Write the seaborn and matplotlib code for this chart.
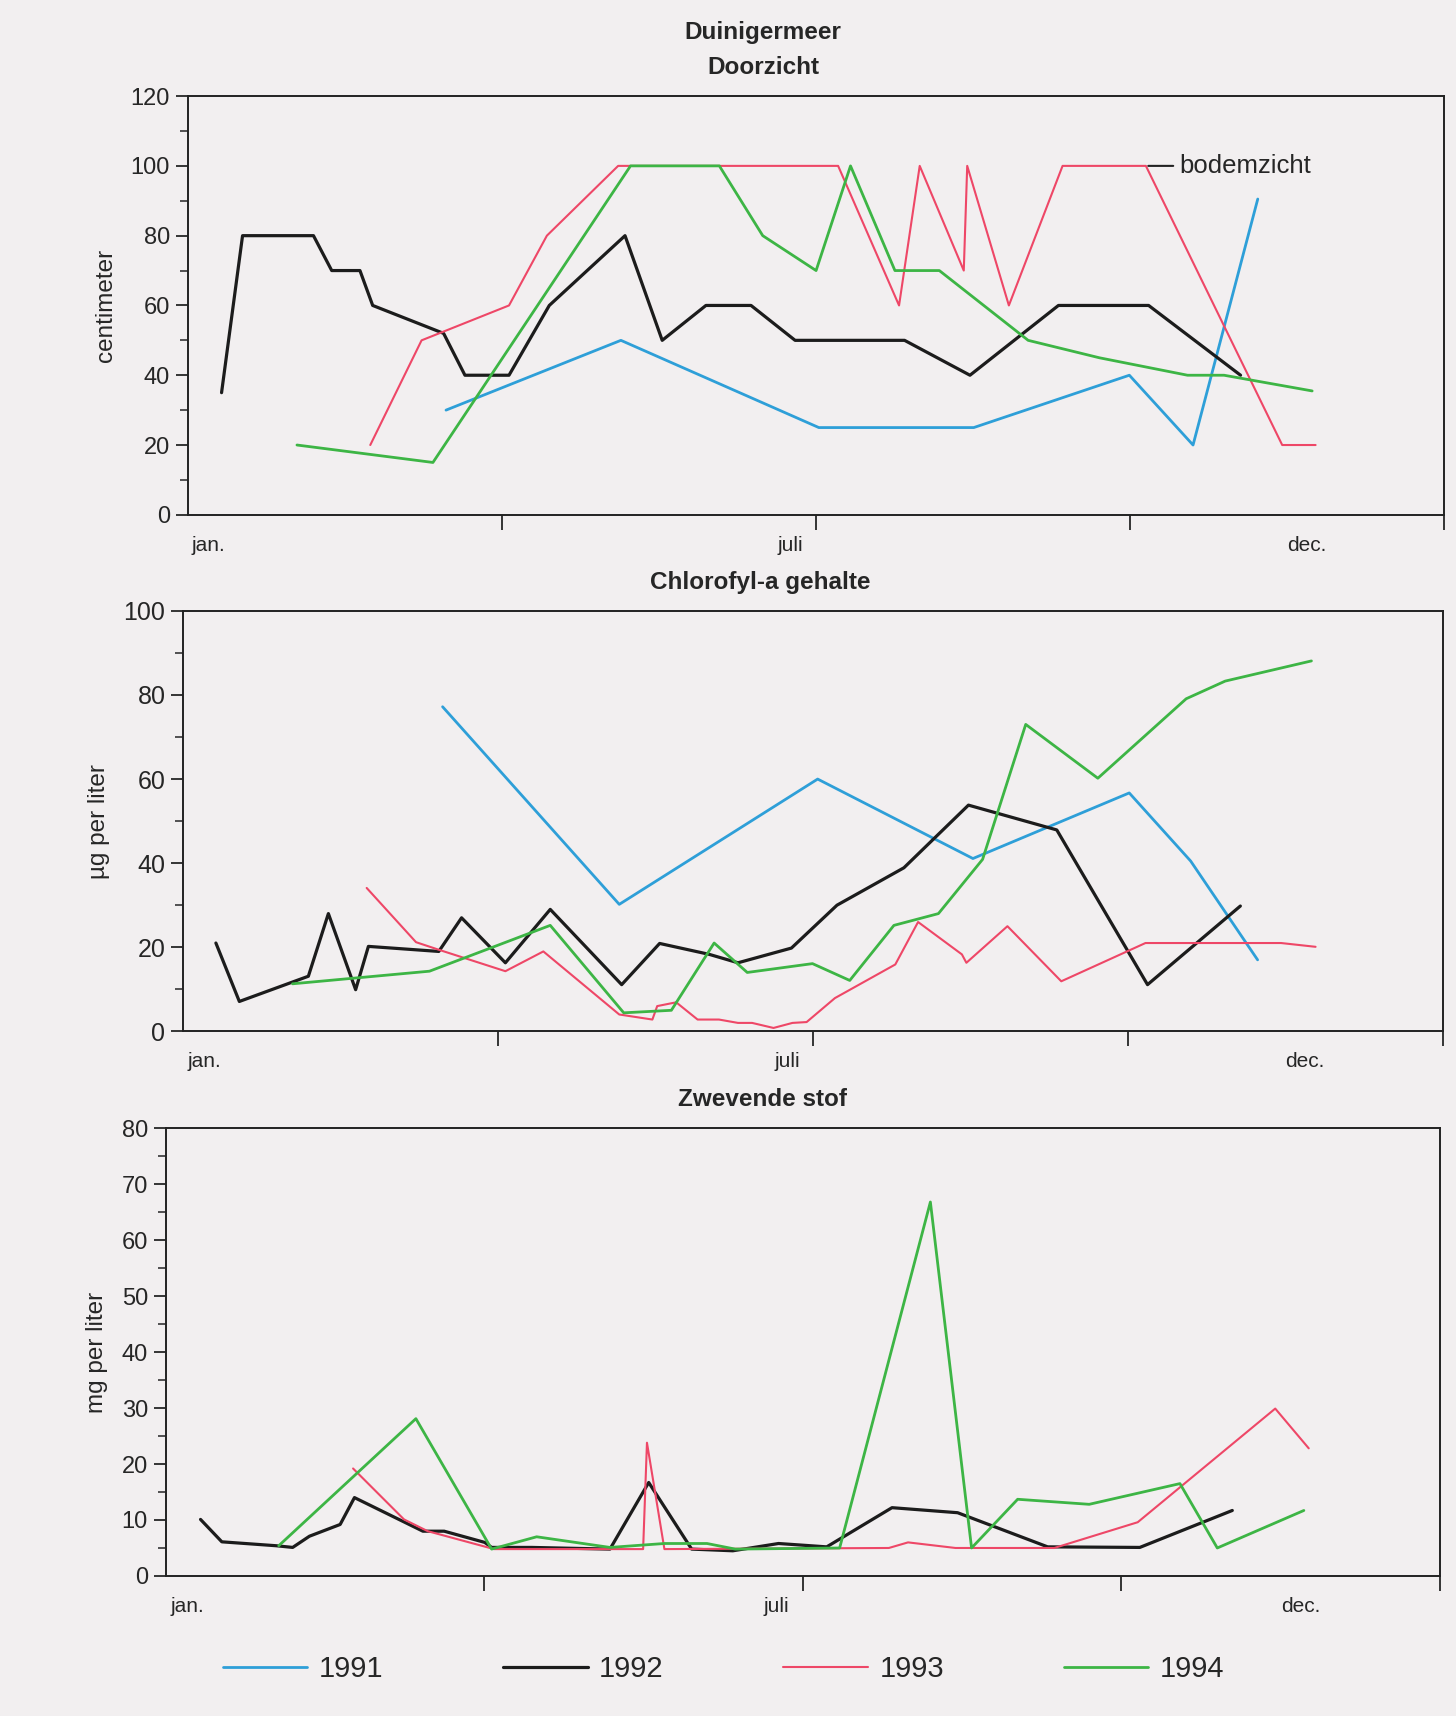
import pandas as pd
import matplotlib.pyplot as plt
import seaborn as sns

# --- data (x = day of the year) ---
# Doorzicht (centimeter)
zicht_1991_dag = [75, 125.8, 183.3, 228.3, 273.5, 292, 310.8]
zicht_1991 = [30, 50, 25, 25, 40, 20, 90.5]
zicht_1992_dag = [9.8, 15.9, 36.5, 41.8, 50, 53.7, 74.3, 80.5, 93.3, 105, 127, 137.8,
                  150.5, 163.6, 176.4, 208.2, 227.2, 252.9, 279.1, 305.8]
zicht_1992 = [35, 80, 80, 70, 70, 60, 52, 40, 40, 60, 80, 50,
              60, 60, 50, 50, 40, 60, 60, 40]
zicht_1993_dag = [53, 67.9, 93.3, 104.3, 125, 188.9, 206.6, 212.6, 225.4, 226.4,
                  238.5, 254.1, 278.3, 317.9, 327.6]
zicht_1993 = [20, 50, 60, 80, 100, 100, 60, 100, 70, 100, 60, 100, 100, 20, 20]
zicht_1994_dag = [31.7, 71.2, 128.6, 154.4, 167, 182.5, 192.5, 205.4, 218.3, 244.1,
                  264.8, 290.4, 301, 326.6]
zicht_1994 = [20, 15, 100, 100, 80, 70, 100, 70, 70, 50, 45, 40, 40, 35.5]

# Chlorofyl-a (ug per liter)
chl_1991_dag = [75.1, 126.3, 183.8, 228.8, 274.1, 291.9, 311.3]
chl_1991 = [77.2, 30.2, 60, 41.1, 56.7, 40.5, 17]
chl_1992_dag = [9.4, 16.2, 36.2, 42, 49.9, 53.6, 74, 80.6, 93.3, 106.3, 127, 138,
                152.4, 160.7, 176.2, 189.4, 208.8, 227.5, 253.1, 279.4, 306.3]
chl_1992 = [21, 7.1, 13.1, 28, 9.9, 20.2, 19, 27, 16.3, 29, 11.1, 20.9,
            18.3, 16.3, 19.8, 30, 38.9, 53.8, 47.9, 11.1, 29.8]
chl_1993_dag = [53.1, 67.4, 74, 93.3, 104.3, 126.3, 135.9, 137.3, 142.8, 149, 155.2,
                160.7, 164.8, 171, 176.5, 180.6, 188.8, 206.3, 212.9, 225.6, 226.9,
                238.8, 254.4, 278.8, 318.1, 328.1]
chl_1993 = [34.1, 21.2, 19.4, 14.3, 19, 4, 2.8, 6, 6.9, 2.8, 2.8,
            2, 2, 0.8, 2, 2.2, 7.9, 15.9, 26, 18.3, 16.3,
            25, 11.9, 21, 21, 20.1]
chl_1994_dag = [31.6, 71.3, 106.3, 127.6, 141.4, 153.8, 163.4, 182.3, 193.1, 205.9,
                218.8, 231.6, 244.1, 265, 290.6, 301.9, 326.9]
chl_1994 = [11.3, 14.3, 25.2, 4.4, 5, 21, 14, 16.1, 12.1, 25.2,
            28, 40.9, 73, 60.2, 79.1, 83.3, 88.1]

# Zwevende stof (mg per liter)
zw_1992_dag = [9.9, 16, 31.6, 36.3, 41.1, 49.9, 54, 73.6, 79.7, 91.3, 93.3, 104.8,
               127.2, 138.3, 150.6, 162.4, 175.5, 189.3, 208, 226.8, 252.6, 279, 305.5]
zw_1992 = [10.1, 6.1, 5.4, 5.1, 7.1, 9.2, 14, 8, 8, 6, 5.1, 5.1,
           4.8, 16.7, 4.8, 4.5, 5.8, 5.2, 12.2, 11.3, 5.2, 5.1, 11.7]
zw_1993_dag = [53.6, 68.2, 75, 94, 136.7, 137.8, 142.8, 207.1, 212.6, 226.2, 254.5,
               278.4, 317.8, 327.4]
zw_1993 = [19.2, 10.1, 8, 4.8, 4.8, 23.8, 4.8, 5, 6, 5, 5, 9.6, 29.9, 22.8]
zw_1994_dag = [32.3, 71.6, 93.3, 106.2, 127.2, 142.8, 155, 163.1, 193, 219, 230.8,
               244, 264.5, 290.5, 301.2, 326]
zw_1994 = [5.4, 28.1, 4.8, 7, 5.1, 5.8, 5.8, 4.8, 5, 66.8, 5, 13.7, 12.8, 16.5, 5, 11.7]

jaren = ['1991', '1992', '1993', '1994']
kleuren = {'1991': '#2e9fd8', '1992': '#1c1c1c', '1993': '#ee4767', '1994': '#3db545'}
dikte = {'1991': 2.0, '1992': 2.3, '1993': 1.5, '1994': 2.0}

maand_labels = ['jan.', 'juli', 'dec.']
maand_pos = [6, 175, 325]

bg = '#f2eff0'
sns.set_style('ticks')
plt.rcParams['font.family'] = ['Liberation Sans', 'DejaVu Sans']

fig = plt.figure(figsize=(14.56, 17.16), dpi=100, facecolor=bg)
ax1 = fig.add_axes([0.129, 0.700, 0.863, 0.244])
ax2 = fig.add_axes([0.126, 0.399, 0.865, 0.245])
ax3 = fig.add_axes([0.114, 0.0816, 0.875, 0.261])

panels = [
    (ax1, {'1991': (zicht_1991_dag, zicht_1991), '1992': (zicht_1992_dag, zicht_1992),
           '1993': (zicht_1993_dag, zicht_1993), '1994': (zicht_1994_dag, zicht_1994)},
     120, 20, 10, 'centimeter', 17),
    (ax2, {'1991': (chl_1991_dag, chl_1991), '1992': (chl_1992_dag, chl_1992),
           '1993': (chl_1993_dag, chl_1993), '1994': (chl_1994_dag, chl_1994)},
     100, 20, 10, 'µg per liter', 18),
    (ax3, {'1992': (zw_1992_dag, zw_1992), '1993': (zw_1993_dag, zw_1993),
           '1994': (zw_1994_dag, zw_1994)},
     80, 10, 5, 'mg per liter', 17),
]

for ax, reeksen, ymax, ystap, yminor, ylabel, ysize in panels:
    ax.set_facecolor(bg)
    for jaar in jaren:
        if jaar not in reeksen:
            continue
        dag, waarde = reeksen[jaar]
        df = pd.DataFrame({'dag': dag, 'waarde': waarde})
        sns.lineplot(data=df, x='dag', y='waarde', ax=ax, color=kleuren[jaar],
                     linewidth=dikte[jaar], estimator=None, sort=False)
    ax.set_xlim(0, 365)
    ax.set_ylim(0, ymax)
    ax.set_yticks(range(0, ymax + 1, ystap))
    ax.set_yticks(range(0, ymax + 1, yminor), minor=True)
    ax.set_xticks([91.25, 182.5, 273.75, 365])
    ax.set_xticklabels([])
    ax.set_xticks(maand_pos, minor=True)
    ax.set_xticklabels(maand_labels, minor=True)
    ax.tick_params(axis='y', which='major', labelsize=ysize, length=9, width=1.3, pad=4)
    ax.tick_params(axis='y', which='minor', length=6, width=1.1)
    ax.tick_params(axis='x', which='major', length=11, width=1.3)
    ax.tick_params(axis='x', which='minor', length=0, labelsize=15, pad=15)
    ax.set_xlabel('')
    ax.set_ylabel(ylabel, fontsize=17.5, labelpad=10)
    for s in ax.spines.values():
        s.set_visible(True)
        s.set_linewidth(1.4)
        s.set_color('#222222')

ax1.annotate('bodemzicht', xy=(279, 100), xytext=(288, 100), fontsize=18.5,
             va='center', ha='left',
             arrowprops=dict(arrowstyle='-', lw=1.5, color='#222222', shrinkA=2, shrinkB=0))

fig.text(0.524, 1 - 33 / 1716, 'Duinigermeer', ha='center', va='center',
         fontsize=17.5, fontweight='bold')
fig.text(0.524, 1 - 67 / 1716, 'Doorzicht', ha='center', va='center',
         fontsize=17.5, fontweight='bold')
fig.text(0.522, 1 - 583 / 1716, 'Chlorofyl-a gehalte', ha='center', va='center',
         fontsize=17.5, fontweight='bold')
fig.text(0.524, 1 - 1099 / 1716, 'Zwevende stof', ha='center', va='center',
         fontsize=17.5, fontweight='bold')

handles = [plt.Line2D([], [], color=kleuren[j], linewidth=dikte[j]) for j in jaren]
fig.legend(handles, jaren, loc='center', bbox_to_anchor=(0.497, 1 - 1669 / 1716),
           ncol=4, frameon=False, fontsize=21, handlelength=2.9, handletextpad=0.4,
           columnspacing=4.1)

fig.savefig('out.png', dpi=100, facecolor=bg)
